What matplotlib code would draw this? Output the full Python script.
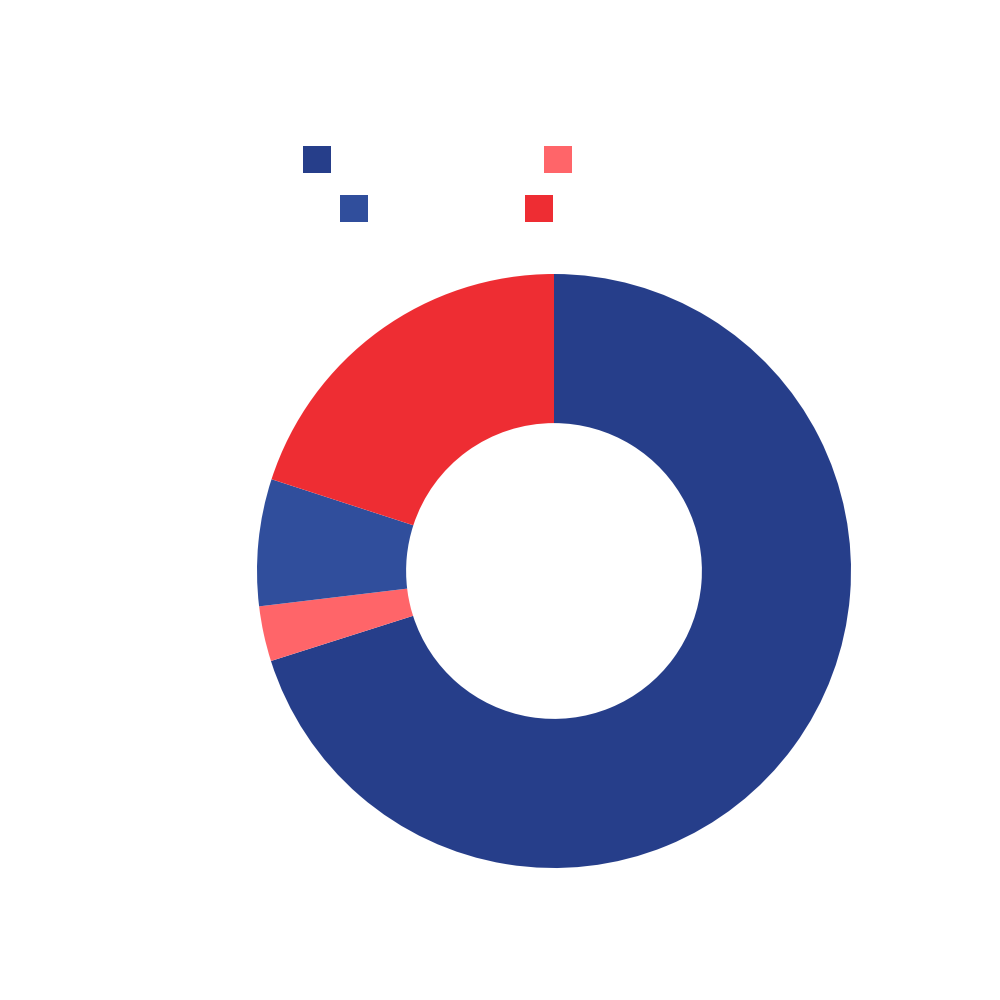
import matplotlib.pyplot as plt
from matplotlib.patches import Patch

# 数据
names = ['', '', '', '']
values = [70.1, 3.0, 6.9, 20.0]
colors = ['#263e8a', '#ff6569', '#304e9c', '#ee2d33']

fig = plt.figure(figsize=(10, 10), dpi=100)
ax = fig.add_axes([0.254, 0.129, 0.6, 0.6])
ax.pie(values, colors=colors, startangle=90, counterclock=False,
       radius=0.99, wedgeprops=dict(width=0.497, linewidth=0))
ax.set_xlim(-1, 1)
ax.set_ylim(-1, 1)
ax.set_aspect('equal')
ax.axis('off')

# 图例分两行, 居中排列
rows = [(0, 2, (0.4375, 0.84), 7.7), (2, 4, (0.4465, 0.791), 5.65)]
for start, end, anchor, spacing in rows:
    handles = [Patch(facecolor=c, edgecolor='none') for c in colors[start:end]]
    fig.legend(handles, names[start:end], loc='center', bbox_to_anchor=anchor,
               ncol=2, frameon=False, fontsize=20, handlelength=1,
               handleheight=1.12, handletextpad=0, columnspacing=spacing,
               borderpad=0, borderaxespad=0)

plt.savefig('out.png')
